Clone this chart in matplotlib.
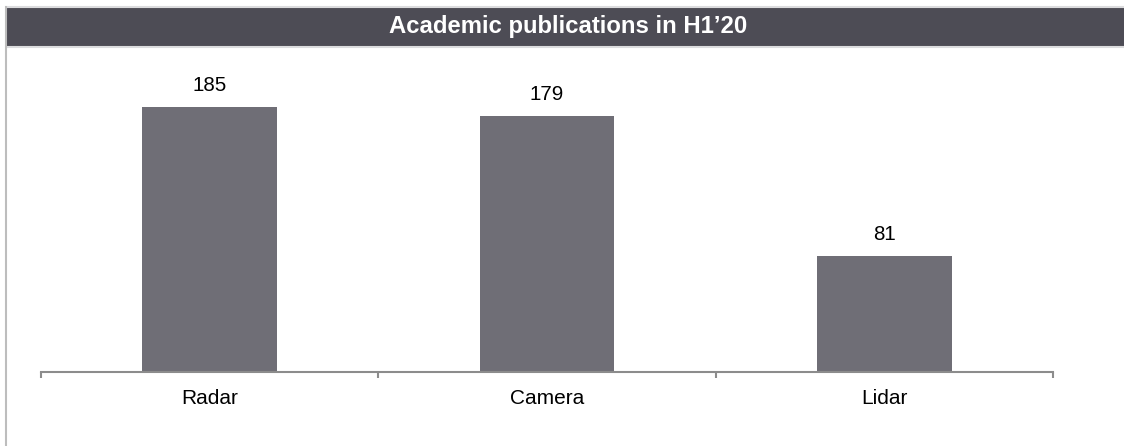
import matplotlib.pyplot as plt
from matplotlib.patches import Rectangle
from matplotlib.lines import Line2D

# data
categorias = ["Radar", "Camera", "Lidar"]
publicaciones = [185, 179, 81]
titulo = "Academic publications in H1\u201920"

plt.rcParams['font.family'] = ['Liberation Sans', 'DejaVu Sans']

W, H = 1124, 446
fig = plt.figure(figsize=(W / 100, H / 100), dpi=100)

# barra de titulo oscura con bordes grises claros
fig.patches.append(Rectangle((7 / W, 1 - 46 / H), 1 - 7 / W, 38 / H,
                             transform=fig.transFigure, color="#4d4c55", zorder=0))
fig.lines.append(Line2D([7 / W, 1], [1 - 7 / H, 1 - 7 / H], transform=fig.transFigure,
                        color="#dcdcde", lw=1.5))
fig.lines.append(Line2D([7 / W, 1], [1 - 47 / H, 1 - 47 / H], transform=fig.transFigure,
                        color="#dcdcde", lw=1.5))
fig.lines.append(Line2D([6.5 / W, 6.5 / W], [0, 1 - 7 / H], transform=fig.transFigure,
                        color="#bdbdbd", lw=1.5))
fig.text(568 / W, 1 - 27 / H, titulo, color="white", fontsize=17.2, fontweight="bold",
         ha="center", va="center")

ax = fig.add_axes([41 / W, 1 - 372 / H, 1012 / W, 326 / H])
x = range(len(categorias))
barras = ax.bar(x, publicaciones, width=0.4, color="#6f6e76", zorder=2)

for b, v in zip(barras, publicaciones):
    ax.annotate(str(v), (b.get_x() + b.get_width() / 2, v), xytext=(0, 8.5),
                textcoords="offset points", ha="center", va="bottom", fontsize=14.8)

ax.set_xlim(-0.5, len(categorias) - 0.5)
ax.set_ylim(0, 227.6)
ax.set_xticks(list(x))
ax.set_xticklabels(categorias, fontsize=15)
ax.set_xticks([i - 0.5 for i in range(len(categorias) + 1)], minor=True)
ax.tick_params(axis="x", which="major", length=0, pad=12.5)
ax.tick_params(axis="x", which="minor", length=4, width=1.5, color="#8c8c8c")
ax.set_yticks([])
for s in ["top", "right", "left"]:
    ax.spines[s].set_visible(False)
ax.spines["bottom"].set_color("#8c8c8c")
ax.spines["bottom"].set_linewidth(1.5)

fig.savefig("out.png", dpi=100)
